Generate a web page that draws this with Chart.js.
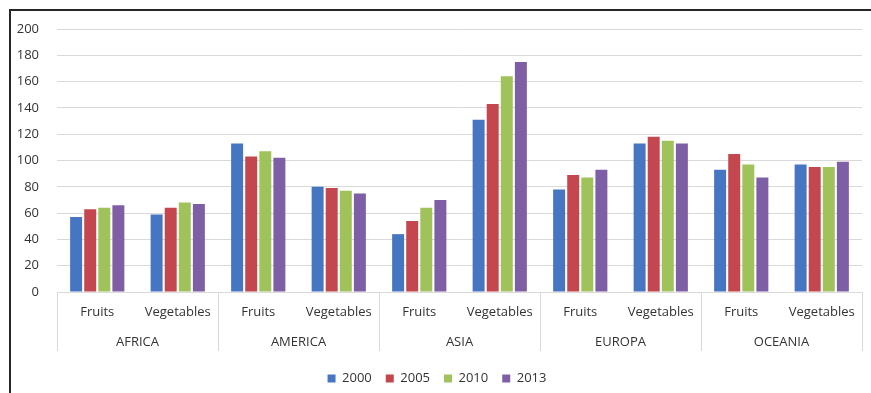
<!DOCTYPE html>
<html>
<head>
<meta charset="utf-8">
<script src="https://cdn.jsdelivr.net/npm/chart.js@4"></script>
<style>
  body { margin: 0; background: #fff; }
  #wrap { position: relative; width: 871px; height: 393px; }
  #frame {
    position: absolute; left: 9px; top: 9px; width: 862px; height: 384px;
    border-left: 2px solid #262626; border-top: 2px solid #262626;
    pointer-events: none;
  }
</style>
</head>
<body>
<div id="wrap">
  <canvas id="grafico" width="871" height="393"></canvas>
  <div id="frame"></div>
</div>
<script>
const regioes = ['AFRICA', 'AMERICA', 'ASIA', 'EUROPA', 'OCEANIA'];
const produtos = ['Fruits', 'Vegetables'];
const anos = ['2000', '2005', '2010', '2013'];

// pairs per region: Fruits, Vegetables
const valores2000 = [57, 59, 113, 80, 44, 131, 78, 113, 93, 97];
const valores2005 = [63, 64, 103, 79, 54, 143, 89, 118, 105, 95];
const valores2010 = [64, 68, 107, 77, 64, 164, 87, 115, 97, 95];
const valores2013 = [66, 67, 102, 75, 70, 175, 93, 113, 87, 99];

const cores = ['#4676c2', '#c4474f', '#9fc25a', '#7e5fa6'];
const fonte = { family: "'Open Sans', sans-serif", size: 13 };
const corTexto = '#333333';
const corGrade = '#d9d9d9';

const rotulos = [];
regioes.forEach(() => produtos.forEach(p => rotulos.push(p)));

const series = [valores2000, valores2005, valores2010, valores2013];

const dados = {
  labels: rotulos,
  datasets: anos.map((ano, i) => ({
    label: ano,
    data: series[i],
    backgroundColor: cores[i],
    borderWidth: 0,
    categoryPercentage: 0.7,
    barPercentage: 0.85
  }))
};

const config = {
  type: 'bar',
  data: dados,
  options: {
    responsive: false,
    animation: false,
    layout: { padding: { top: 29, right: 9, left: 12, bottom: -2 } },
    plugins: {
      tooltip: { enabled: false },
      legend: {
        position: 'bottom',
        labels: {
          boxWidth: 8,
          boxHeight: 8,
          padding: 14,
          color: corTexto,
          font: fonte
        }
      }
    },
    scales: {
      y: {
        min: 0,
        max: 200,
        ticks: { stepSize: 20, color: corTexto, font: fonte, padding: 18 },
        grid: { color: corGrade, drawTicks: false },
        border: { display: false },
        afterFit: s => { s.width = 45; }
      },
      x: {
        ticks: { color: corTexto, font: fonte, padding: -18 },
        grid: {
          offset: true,
          drawOnChartArea: false,
          tickLength: 30,
          color: ctx => (ctx.index === undefined || ctx.index % 2 === 0) ? corGrade : 'rgba(0,0,0,0)'
        },
        border: { color: corGrade },
        afterFit: s => { s.height = 30; }
      },
      regiao: {
        type: 'category',
        position: 'bottom',
        labels: regioes,
        offset: true,
        ticks: { color: corTexto, font: fonte, padding: -17 },
        grid: { offset: true, drawOnChartArea: false, tickLength: 29, color: corGrade },
        border: { display: false },
        afterFit: s => { s.height = 36; }
      }
    }
  }
};

const instanciaGrafico = new Chart(document.getElementById('grafico'), config);
</script>
</body>
</html>
